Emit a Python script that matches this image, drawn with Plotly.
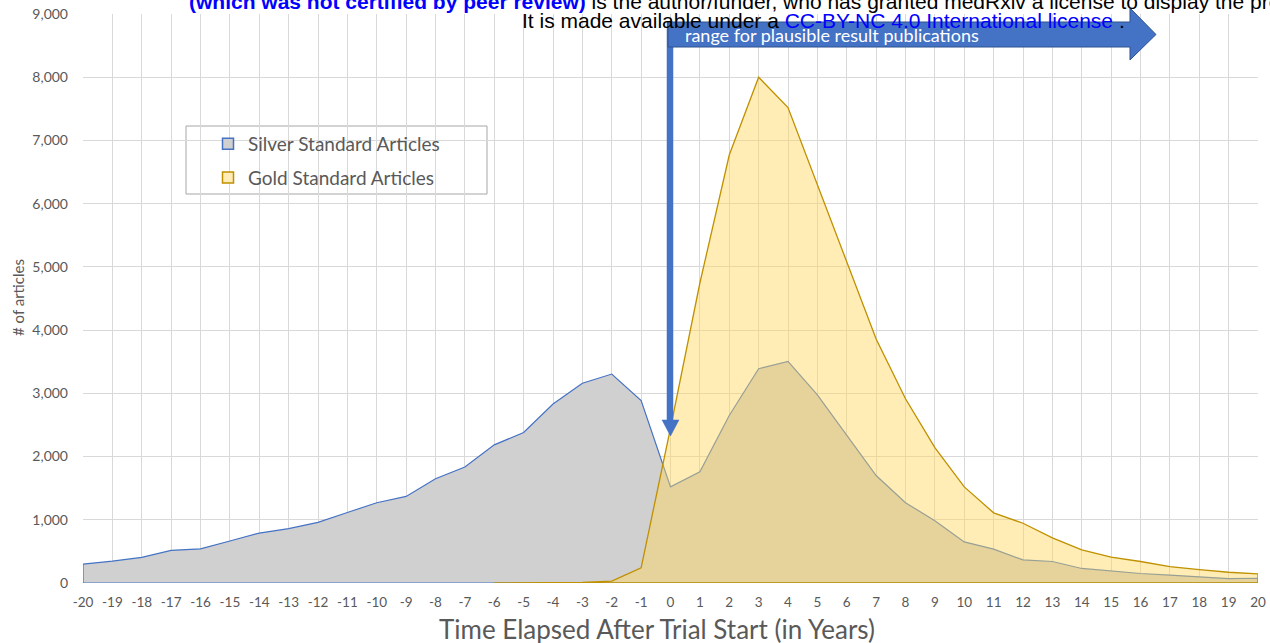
import plotly.graph_objects as go

# ---- data ----
years = [-20, -19, -18, -17, -16, -15, -14, -13, -12, -11, -10, -9, -8, -7, -6, -5, -4, -3, -2, -1,
         0, 1, 2, 3, 4, 5, 6, 7, 8, 9, 10, 11, 12, 13, 14, 15, 16, 17, 18, 19, 20]
silver = [300, 345, 405, 515, 540, 665, 790, 860, 960, 1115, 1270, 1370, 1650, 1835, 2185, 2380,
          2830, 3160, 3305, 2885, 1520, 1760, 2650, 3390, 3505, 2975, 2340, 1700, 1270, 985, 650,
          535, 365, 340, 230, 190, 150, 125, 95, 70, 75]
gold_years = [-6, -5, -4, -3, -2, -1, 0, 1, 2, 3, 4, 5, 6, 7, 8, 9, 10, 11, 12, 13, 14, 15, 16,
              17, 18, 19, 20]
gold = [0, 2, 5, 10, 30, 240, 2450, 4745, 6770, 8000, 7520, 6310, 5100, 3860, 2915, 2140, 1520,
        1110, 945, 715, 525, 410, 340, 260, 210, 170, 145]
y_ticks = [0, 1000, 2000, 3000, 4000, 5000, 6000, 7000, 8000, 9000]
series_names = ["Silver Standard Articles", "Gold Standard Articles"]

# ---- styles ----
W, H = 1270, 643
L, R, T, B = 83, 12, 14, 60
PW, PH = W - L - R, H - T - B
GREY_TXT = "#595959"
BLUE = "#4472C4"
GOLD_LINE = "#BF9000"
SILVER_FILL = "rgb(208,208,208)"
GOLD_FILL = "rgba(255,214,92,0.45)"


def px(x):
    return (x - L) / PW


def py(y):
    return (H - B - y) / PH


def closed(xs, ys):
    return [xs[0]] + list(xs) + [xs[-1], xs[0]], [0] + list(ys) + [0, 0]


fig = go.Figure()

sx, sy = closed(years, silver)
fig.add_trace(go.Scatter(x=sx, y=sy, mode="lines", fill="toself", fillcolor=SILVER_FILL,
                         line=dict(color=BLUE, width=1.2), showlegend=False, hoverinfo="skip"))
gx, gy = closed(gold_years, gold)
fig.add_trace(go.Scatter(x=gx, y=gy, mode="lines", fill="toself", fillcolor=GOLD_FILL,
                         line=dict(color=GOLD_LINE, width=1.3), showlegend=False, hoverinfo="skip"))

# legend entries
fig.add_trace(go.Scatter(x=[None], y=[None], mode="markers", name=series_names[0],
                         legendgroup="a",
                         marker=dict(symbol="square", size=11, color=SILVER_FILL,
                                     line=dict(color=BLUE, width=1.5))))
fig.add_trace(go.Scatter(x=[None], y=[None], mode="markers", name=series_names[1],
                         legendgroup="b",
                         marker=dict(symbol="square", size=11, color="rgb(255,236,183)",
                                     line=dict(color=GOLD_LINE, width=1.5))))

shapes = []
# legend box
shapes.append(dict(type="rect", xref="paper", yref="paper", x0=px(186), x1=px(487),
                   y0=py(194), y1=py(126), line=dict(color="#A6A6A6", width=1),
                   fillcolor="white", layer="below"))


def path(points):
    return "M " + " L ".join(f"{px(a):.5f},{py(b):.5f}" for a, b in points) + " Z"


# vertical arrow
shapes.append(dict(type="path", xref="paper", yref="paper",
                   path=path([(667, 22), (673, 22), (673, 420), (679, 420), (670.5, 436),
                              (662, 420), (667, 420)]),
                   fillcolor=BLUE, line=dict(color=BLUE, width=0.5), layer="above"))
# horizontal arrow
shapes.append(dict(type="path", xref="paper", yref="paper",
                   path=path([(668, 22), (1130, 22), (1130, 8), (1156, 34.5), (1130, 60),
                              (1130, 47), (668, 47)]),
                   fillcolor=BLUE, line=dict(color="#2F528F", width=1), layer="above"))

annotations = [
    dict(text="range for plausible result publications", xref="paper", yref="paper",
         x=px(683), y=py(35), xanchor="left", yanchor="middle", showarrow=False,
         font=dict(family="Lato", size=18, color="white")),
    dict(text="<b><span style='color:#0000FF'>(which was not certified by peer review)</span></b>"
              " is the author/funder, who has granted medRxiv a license to display the preprint in perpetuity.",
         xref="paper", yref="paper", x=px(187), y=py(1), xanchor="left", yanchor="middle",
         showarrow=False, font=dict(family="Liberation Sans", size=21, color="black")),
    dict(text="It is made available under a <span style='color:#0000FF'>CC-BY-NC 4.0 International license</span> .",
         xref="paper", yref="paper", x=px(520), y=py(20), xanchor="left", yanchor="middle",
         showarrow=False, font=dict(family="Liberation Sans", size=21, color="black")),
    dict(text="Time Elapsed After Trial Start (in Years)", xref="paper", yref="paper",
         x=px(657), y=py(629), xanchor="center", yanchor="middle", showarrow=False,
         font=dict(family="Lato", size=26, color=GREY_TXT)),
    dict(text="# of articles", xref="paper", yref="paper", x=px(18), y=py(298),
         xanchor="center", yanchor="middle", textangle=-90, showarrow=False,
         font=dict(family="Lato", size=15, color=GREY_TXT)),
]

fig.update_layout(
    width=W, height=H,
    margin=dict(l=L, r=R, t=T, b=B, autoexpand=False),
    paper_bgcolor="white", plot_bgcolor="white",
    showlegend=True,
    legend=dict(x=px(208), y=py(125), xanchor="left", yanchor="top",
                bgcolor="rgba(0,0,0,0)", borderwidth=0, traceorder="grouped",
                tracegroupgap=6,
                font=dict(family="Lato", size=19, color=GREY_TXT)),
    shapes=shapes,
    annotations=annotations,
    xaxis=dict(range=[years[0], years[-1]], tickmode="array", tickvals=years,
               ticktext=[str(v) for v in years], showgrid=True, gridcolor="#D9D9D9",
               gridwidth=1, zeroline=False, showline=False, ticks="", automargin=False,
               ticklabelstandoff=9,
               tickfont=dict(family="Lato", size=13.5, color=GREY_TXT)),
    yaxis=dict(range=[0, 9000], tickmode="array", tickvals=y_ticks,
               ticktext=[f"{v:,}" for v in y_ticks], showgrid=True, gridcolor="#D9D9D9",
               gridwidth=1, zeroline=False, showline=False, ticks="", automargin=False,
               ticklabelstandoff=14,
               tickfont=dict(family="Lato", size=14, color=GREY_TXT)),
)

fig.write_html("out.html", config={"responsive": False, "displayModeBar": False},
               post_script="document.body.style.margin='0';document.body.style.overflow='hidden';")
